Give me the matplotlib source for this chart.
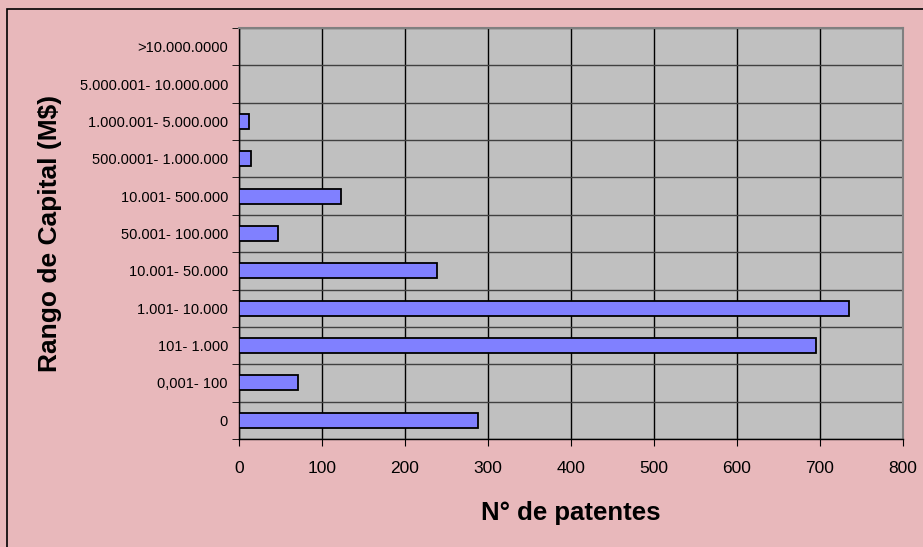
import numpy as np
import matplotlib
matplotlib.use("Agg")
import matplotlib.pyplot as plt

# categories bottom to top
rangos = ["0", "0,001- 100", "101- 1.000", "1.001- 10.000", "10.001- 50.000",
          "50.001- 100.000", "10.001- 500.000", "500.0001- 1.000.000",
          "1.000.001- 5.000.000", "5.000.001- 10.000.000", ">10.000.0000"]
patentes = [288, 71, 695, 735, 239, 47, 123, 14, 12, 0, 0]

x_ticks = [0, 100, 200, 300, 400, 500, 600, 700, 800]

plt.rcParams['font.family'] = ['Liberation Sans', 'DejaVu Sans']

fig = plt.figure(figsize=(9.23, 5.47), dpi=100)
fig.patch.set_facecolor("#E8B8BB")

# frame around the chart area
fig.add_artist(plt.Rectangle((7/923, -0.01), 1.0, 1 - 9/547 + 0.01,
                             transform=fig.transFigure, fill=False,
                             edgecolor="black", lw=1.2))

ax = fig.add_axes([239/923, 1 - 439/547, (903 - 239)/923, (439 - 28)/547])
ax.set_facecolor("#C0C0C0")

y = np.arange(len(rangos))
ax.barh(y, patentes, height=0.4, color="#8080FF", edgecolor="black",
        linewidth=1.3, zorder=3)

ax.set_xlim(0, 800)
ax.set_ylim(-0.5, len(rangos) - 0.5)
ax.set_xticks(x_ticks)
ax.set_xticklabels([str(v) for v in x_ticks], fontsize=12.5)
ax.set_yticks(y)
ax.set_yticklabels(rangos, fontsize=10.5)
ax.set_yticks(np.arange(len(rangos) + 1) - 0.5, minor=True)

ax.grid(axis="x", color="black", lw=1.0, zorder=1)
ax.grid(axis="y", which="minor", color="#404040", lw=1.0, zorder=1)
ax.tick_params(axis="y", which="major", length=0, pad=8)
ax.tick_params(axis="y", which="minor", length=5, direction="out")
ax.tick_params(axis="x", length=5, direction="out", pad=11)

for s in ["top", "right"]:
    ax.spines[s].set_color("#808080")
    ax.spines[s].set_linewidth(1.5)
for s in ["left", "bottom"]:
    ax.spines[s].set_color("black")
    ax.spines[s].set_linewidth(1.0)

ax.set_xlabel("N° de patentes", fontsize=18.5, fontweight="bold", labelpad=18)
ax.set_ylabel("Rango de Capital (M$)", fontsize=19, fontweight="bold")
ax.yaxis.set_label_coords(-0.267, 0.5)

fig.savefig("out.png", dpi=100, facecolor=fig.get_facecolor())
